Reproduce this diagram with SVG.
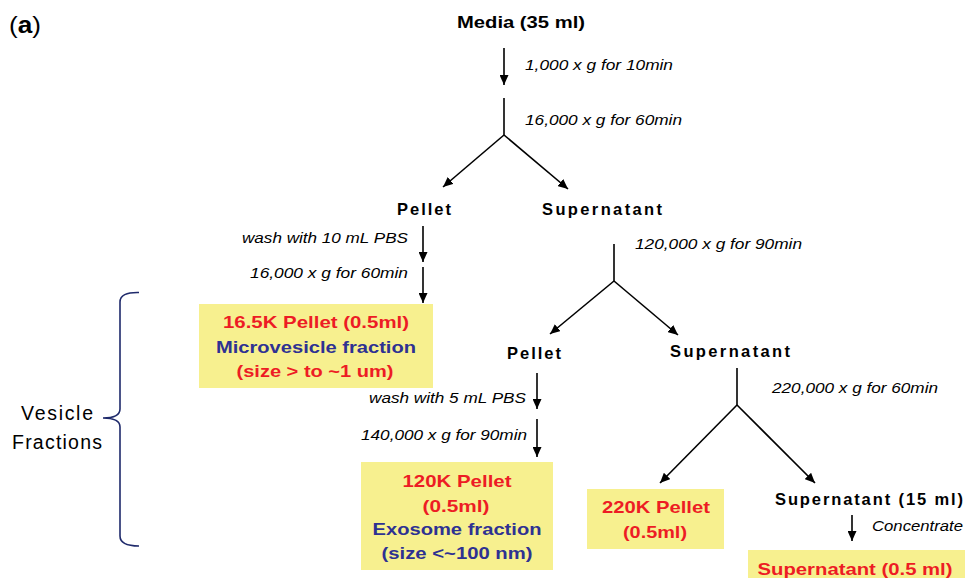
<svg xmlns="http://www.w3.org/2000/svg" width="965" height="578" viewBox="0 0 965 578">
<style>
text{font-family:"Liberation Sans",Arial,sans-serif;}
.b{font-weight:bold;font-size:16.5px;fill:#000;}
.i{font-style:italic;font-size:15.5px;fill:#000;}
.r{font-weight:bold;font-size:17px;fill:#ED1C24;text-anchor:middle;}
.u{font-weight:bold;font-size:17px;fill:#2E3192;text-anchor:middle;}
.box{fill:#F7F08F;}
.ln{stroke:#000;stroke-width:1.6;fill:none;}
.br{stroke:#1F2A6B;stroke-width:1.6;fill:none;}
.v{font-size:19.5px;fill:#000;}
</style>
<defs>
<marker id="ah" markerUnits="userSpaceOnUse" markerWidth="11" markerHeight="9" refX="10" refY="4.5" orient="auto">
<path d="M0,0 L10,4.5 L0,9 z" fill="#000"/>
</marker>
</defs>

<text x="9" y="33" font-size="24" textLength="32" lengthAdjust="spacingAndGlyphs">(<tspan font-weight="bold">a</tspan>)</text>

<g id="connectors">
<line class="ln" x1="504" y1="48" x2="504" y2="85" marker-end="url(#ah)"/>
<line class="ln" x1="504" y1="98" x2="504" y2="135"/>
<line class="ln" x1="504" y1="135" x2="443" y2="187" marker-end="url(#ah)"/>
<line class="ln" x1="504" y1="135" x2="568" y2="189" marker-end="url(#ah)"/>
<line class="ln" x1="423" y1="226" x2="423" y2="262" marker-end="url(#ah)"/>
<line class="ln" x1="423" y1="267" x2="423" y2="303" marker-end="url(#ah)"/>
<line class="ln" x1="614" y1="244" x2="614" y2="281"/>
<line class="ln" x1="614" y1="281" x2="550" y2="334" marker-end="url(#ah)"/>
<line class="ln" x1="614" y1="281" x2="678" y2="335" marker-end="url(#ah)"/>
<line class="ln" x1="537" y1="373" x2="537" y2="409" marker-end="url(#ah)"/>
<line class="ln" x1="537" y1="419" x2="537" y2="457" marker-end="url(#ah)"/>
<line class="ln" x1="737" y1="368" x2="737" y2="405"/>
<line class="ln" x1="737" y1="405" x2="660" y2="483" marker-end="url(#ah)"/>
<line class="ln" x1="737" y1="405" x2="815" y2="483" marker-end="url(#ah)"/>
<line class="ln" x1="852" y1="515" x2="852" y2="541" marker-end="url(#ah)"/>
</g>

<g id="labels">
<text class="i" x="525" y="70" textLength="148" lengthAdjust="spacingAndGlyphs">1,000 x g for 10min</text>
<text class="i" x="525" y="125" textLength="157" lengthAdjust="spacingAndGlyphs">16,000 x g for 60min</text>
<text class="i" x="242" y="243" textLength="166" lengthAdjust="spacingAndGlyphs">wash with 10 mL PBS</text>
<text class="i" x="250" y="278" textLength="158" lengthAdjust="spacingAndGlyphs">16,000 x g for 60min</text>
<text class="i" x="635" y="249" textLength="167" lengthAdjust="spacingAndGlyphs">120,000 x g for 90min</text>
<text class="i" x="369" y="403" textLength="157" lengthAdjust="spacingAndGlyphs">wash with 5 mL PBS</text>
<text class="i" x="361" y="440" textLength="166" lengthAdjust="spacingAndGlyphs">140,000 x g for 90min</text>
<text class="i" x="772" y="393" textLength="166" lengthAdjust="spacingAndGlyphs">220,000 x g for 60min</text>
<text class="i" x="872" y="531" textLength="91" lengthAdjust="spacingAndGlyphs">Concentrate</text>
</g>

<g id="media"><text class="b" x="457" y="28" font-size="19" textLength="128" lengthAdjust="spacingAndGlyphs">Media (35 ml)</text></g>
<g id="pellet1"><text class="b" x="397" y="215" textLength="54" lengthAdjust="spacing">Pellet</text></g>
<g id="supernatant1"><text class="b" x="542" y="215" textLength="120" lengthAdjust="spacing">Supernatant</text></g>

<g id="box-16k">
<rect class="box" x="199" y="304" width="234" height="84"/>
<text class="r" x="316" y="328" textLength="186" lengthAdjust="spacingAndGlyphs">16.5K Pellet (0.5ml)</text>
<text class="u" x="316" y="353" textLength="200" lengthAdjust="spacingAndGlyphs">Microvesicle fraction</text>
<text class="r" x="315" y="377" textLength="157" lengthAdjust="spacingAndGlyphs">(size &gt; to ~1 um)</text>
</g>

<g id="pellet2"><text class="b" x="507" y="359" textLength="54" lengthAdjust="spacing">Pellet</text></g>
<g id="supernatant2"><text class="b" x="670" y="357" textLength="120" lengthAdjust="spacing">Supernatant</text></g>

<g id="box-120k">
<rect class="box" x="361" y="462" width="192" height="108"/>
<text class="r" x="457" y="487" textLength="109" lengthAdjust="spacingAndGlyphs">120K Pellet</text>
<text class="r" x="456" y="512" textLength="67" lengthAdjust="spacingAndGlyphs">(0.5ml)</text>
<text class="u" x="457" y="535" textLength="169" lengthAdjust="spacingAndGlyphs">Exosome fraction</text>
<text class="u" x="457" y="559" textLength="151" lengthAdjust="spacingAndGlyphs">(size &lt;~100 nm)</text>
</g>

<g id="box-220k">
<rect class="box" x="587" y="489" width="137" height="60"/>
<text class="r" x="656" y="513" textLength="108" lengthAdjust="spacingAndGlyphs">220K Pellet</text>
<text class="r" x="655" y="538" textLength="64" lengthAdjust="spacingAndGlyphs">(0.5ml)</text>
</g>

<g id="supernatant15"><text class="b" x="775" y="505" textLength="188" lengthAdjust="spacing">Supernatant (15 ml)</text></g>

<g id="box-sup05">
<rect class="box" x="748" y="550" width="217" height="28"/>
<text class="r" x="855" y="575" textLength="195" lengthAdjust="spacingAndGlyphs">Supernatant (0.5 ml)</text>
</g>

<g id="vesicle-fractions">
<path class="br" d="M139,292.5 Q120,292 120,302 L120,409 Q120,418 103,418 Q120,418 120,427 L120,536 Q120,546 139,546"/>
<text class="v" x="21" y="420" textLength="72" lengthAdjust="spacing">Vesicle</text>
<text class="v" x="12" y="449" textLength="90" lengthAdjust="spacing">Fractions</text>
</g>
</svg>
